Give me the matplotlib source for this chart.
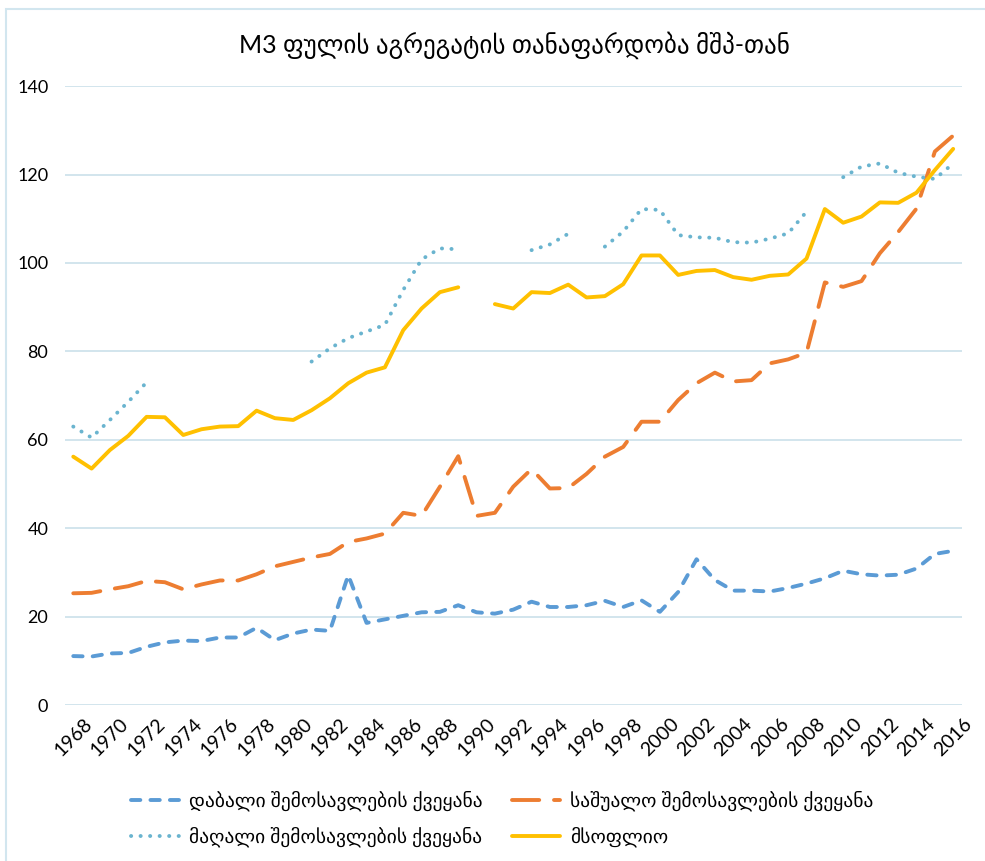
import numpy as np
import matplotlib.pyplot as plt
from matplotlib.patches import Rectangle

plt.rcParams['font.family'] = ['Lato', 'DejaVu Sans']

nan = np.nan
years = list(range(1968, 2017))

low_income = [11.1, 11.0, 11.7, 11.8, 13.2, 14.2, 14.6, 14.5, 15.3, 15.3,
              17.5, 14.7, 16.2, 17.1, 16.8, 29.4, 18.6, 19.4, 20.2, 21.0,
              21.1, 22.6, 21.0, 20.7, 21.6, 23.4, 22.2, 22.2, 22.6, 23.6,
              22.2, 23.7, 21.1, 25.6, 33.0, 28.3, 25.9, 25.9, 25.7, 26.5,
              27.5, 28.7, 30.4, 29.6, 29.3, 29.5, 30.9, 34.2, 34.9]

middle_income = [25.3, 25.4, 26.2, 26.9, 28.1, 27.8, 26.2, 27.3, 28.2, 28.2,
                 29.6, 31.4, 32.4, 33.4, 34.2, 36.9, 37.7, 38.8, 43.5, 42.8,
                 49.4, 56.3, 42.8, 43.5, 49.4, 53.4, 49.0, 49.1, 52.3, 56.2,
                 58.4, 64.1, 64.1, 69.0, 72.8, 75.2, 73.2, 73.5, 77.3, 78.2,
                 79.7, 95.6, 94.6, 95.9, 102.2, 107.0, 112.3, 125.2, 128.8]

high_income = [63.0, 60.5, 64.5, 68.6, 73.0, nan, nan, nan, nan, nan,
               nan, nan, nan, 77.7, 80.7, 83.0, 84.5, 86.0, 93.9, 100.8,
               103.3, 103.1, nan, nan, nan, 102.9, 104.2, 106.6, nan, 103.7,
               107.1, 112.2, 112.0, 106.3, 105.8, 105.7, 104.7, 104.6, 105.5, 106.7,
               111.6, nan, 119.4, 121.8, 122.5, 120.4, 119.5, 119.0, 122.5]

world = [56.2, 53.5, 57.7, 60.9, 65.2, 65.1, 61.1, 62.4, 63.0, 63.1,
         66.6, 64.9, 64.5, 66.7, 69.4, 72.8, 75.2, 76.4, 84.8, 89.7,
         93.4, 94.5, nan, 90.7, 89.7, 93.4, 93.2, 95.1, 92.2, 92.5,
         95.2, 101.7, 101.7, 97.3, 98.2, 98.4, 96.8, 96.2, 97.1, 97.4,
         101.0, 112.2, 109.1, 110.5, 113.7, 113.6, 115.9, 121.0, 125.8]

labels = ['დაბალი შემოსავლების ქვეყანა', 'საშუალო შემოსავლების ქვეყანა',
          'მაღალი შემოსავლების ქვეყანა', 'მსოფლიო']

fig = plt.figure(figsize=(9.85, 8.61), dpi=100)
ax = fig.add_axes([0.066, 0.181, 0.911, 0.719])

lw = 2.8
l1, = ax.plot(years, low_income, color='#5B9BD5', lw=lw, linestyle=(0, (2.4, 2.6)),
              dash_capstyle='round', label=labels[0])
l2, = ax.plot(years, middle_income, color='#ED7D31', lw=lw, linestyle=(0, (7.0, 3.8)),
              dash_capstyle='round', label=labels[1])
l3, = ax.plot(years, high_income, color='#6AB4CF', lw=lw, linestyle=(0, (0.05, 2.4)),
              dash_capstyle='round', label=labels[2])
l4, = ax.plot(years, world, color='#FFC000', lw=lw, solid_capstyle='round', label=labels[3])

ax.set_xlim(1967.55, 2016.5)
ax.set_ylim(0, 140)
ax.set_yticks(range(0, 141, 20))
ax.set_xticks(years[::2])
ax.set_xticklabels([str(y) for y in years[::2]], rotation=45, fontsize=14)
ax.tick_params(axis='y', labelsize=13, length=0, pad=12)
ax.tick_params(axis='x', length=0, pad=7)
ax.grid(axis='y', color='#CFE3EC', lw=1.3)
ax.set_axisbelow(True)
for s in ax.spines.values():
    s.set_visible(False)

fig.text(0.522, 0.948, 'M3 ფულის აგრეგატის თანაფარდობა მშპ-თან', ha='center', va='center',
         fontsize=18)

# column-wise fill, so order handles to read row by row
ax.legend([l1, l3, l2, l4], [labels[0], labels[2], labels[1], labels[3]],
          loc='upper center', bbox_to_anchor=(0.487, -0.11), ncol=2, frameon=False,
          fontsize=14, handlelength=2.5, handletextpad=0.5, columnspacing=1.5,
          labelspacing=0.8)

fig.add_artist(Rectangle((6 / 985, -0.1), 1.2, 1 - 9 / 861 + 0.1, transform=fig.transFigure,
                         fill=False, edgecolor='#D2E6EF', lw=1.5))

fig.savefig('out.png', dpi=100)
